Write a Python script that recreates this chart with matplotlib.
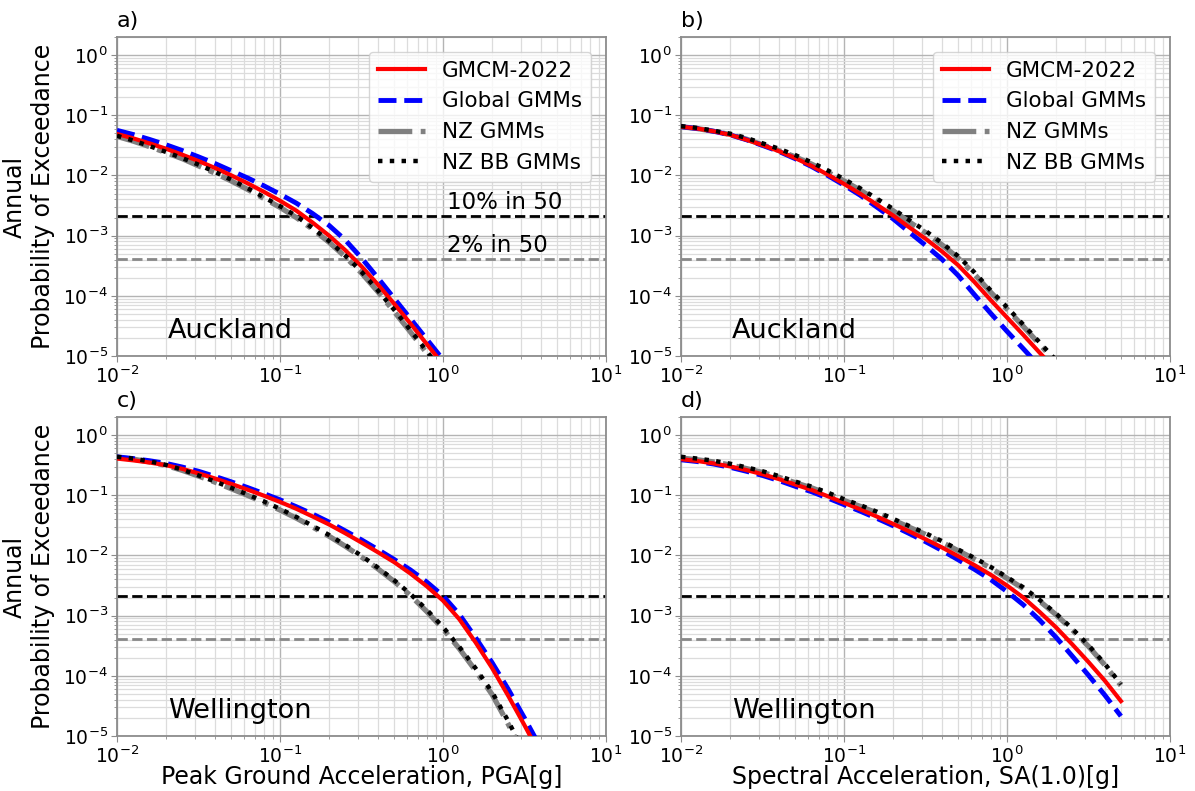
import numpy as np
import matplotlib
matplotlib.use("Agg")
import matplotlib.pyplot as plt

# ---------------- data (y stored as log10 of annual probability) ----
x_read = [0.01, 0.0126, 0.0158, 0.02, 0.0251, 0.0316, 0.0398, 0.0501, 0.0631, 0.0794,
          0.1, 0.126, 0.158, 0.2, 0.251, 0.316, 0.398, 0.501, 0.631, 0.794,
          1.0, 1.26, 1.58, 2.0, 2.51, 3.16, 3.98, 5.0]

# Panel a: PGA, Auckland (x_read[:22])
a_gmcm_log10 = [-1.31, -1.384, -1.466, -1.556, -1.654, -1.760, -1.874, -1.997, -2.129, -2.270,
                -2.420, -2.585, -2.78, -3.00, -3.24, -3.51, -3.81, -4.13, -4.46, -4.80, -5.14, -5.48]
a_global_log10 = [-1.25, -1.32, -1.40, -1.49, -1.585, -1.69, -1.80, -1.92, -2.04, -2.17,
                  -2.31, -2.46, -2.63, -2.83, -3.07, -3.37, -3.70, -4.04, -4.38, -4.72, -5.06, -5.40]
a_nz_log10 = [-1.35, -1.43, -1.52, -1.62, -1.72, -1.84, -1.96, -2.09, -2.23, -2.38,
              -2.53, -2.70, -2.89, -3.11, -3.35, -3.62, -3.93, -4.26, -4.60, -4.95, -5.30, -5.65]
a_nzbb_log10 = [-1.34, -1.42, -1.51, -1.61, -1.71, -1.82, -1.94, -2.07, -2.21, -2.36,
                -2.51, -2.675, -2.87, -3.09, -3.33, -3.60, -3.91, -4.23, -4.57, -4.92, -5.27, -5.62]

# Panel b: SA(1.0), Auckland (x_read[:25])
b_gmcm_log10 = [-1.19, -1.22, -1.265, -1.325, -1.405, -1.495, -1.595, -1.71, -1.84, -1.985,
                -2.14, -2.305, -2.48, -2.665, -2.86, -3.05, -3.26, -3.49, -3.77, -4.07,
                -4.36, -4.65, -4.94, -5.24, -5.54]
b_global_log10 = [-1.19, -1.22, -1.265, -1.325, -1.405, -1.50, -1.60, -1.72, -1.85, -2.00,
                  -2.16, -2.33, -2.52, -2.72, -2.94, -3.16, -3.39, -3.66, -3.98, -4.29,
                  -4.59, -4.88, -5.17, -5.46, -5.75]
b_nz_log10 = [-1.19, -1.22, -1.265, -1.32, -1.395, -1.49, -1.585, -1.69, -1.81, -1.945,
              -2.09, -2.245, -2.41, -2.585, -2.77, -2.95, -3.15, -3.37, -3.64, -3.94,
              -4.22, -4.51, -4.80, -5.10, -5.40]
b_nzbb_log10 = [-1.18, -1.21, -1.255, -1.305, -1.375, -1.465, -1.555, -1.66, -1.78, -1.915,
                -2.06, -2.215, -2.38, -2.555, -2.74, -2.92, -3.12, -3.34, -3.61, -3.91,
                -4.19, -4.48, -4.77, -5.07, -5.37]

# Panel c: PGA, Wellington (x_read[:27])
c_gmcm_log10 = [-0.39, -0.42, -0.455, -0.50, -0.56, -0.635, -0.72, -0.81, -0.905, -1.005,
                -1.11, -1.225, -1.35, -1.485, -1.63, -1.785, -1.945, -2.11, -2.30, -2.51,
                -2.75, -3.06, -3.44, -3.87, -4.33, -4.82, -5.33]
c_global_log10 = [-0.36, -0.39, -0.425, -0.47, -0.53, -0.60, -0.685, -0.775, -0.87, -0.97,
                  -1.075, -1.19, -1.31, -1.445, -1.59, -1.74, -1.90, -2.065, -2.24, -2.44,
                  -2.67, -2.98, -3.36, -3.78, -4.22, -4.70, -5.20]
c_nz_log10 = [-0.37, -0.40, -0.445, -0.505, -0.585, -0.68, -0.78, -0.89, -1.00, -1.12,
              -1.245, -1.38, -1.525, -1.68, -1.845, -2.025, -2.22, -2.43, -2.665, -2.93,
              -3.22, -3.55, -3.91, -4.31, -4.80, -5.33, -5.90]
c_nzbb_log10 = [-0.36, -0.39, -0.435, -0.495, -0.575, -0.67, -0.77, -0.875, -0.985, -1.10,
                -1.225, -1.36, -1.505, -1.66, -1.825, -2.005, -2.20, -2.41, -2.64, -2.90,
                -3.19, -3.52, -3.87, -4.27, -4.75, -5.28, -5.84]

# Panel d: SA(1.0), Wellington (x_read[:28])
d_gmcm_log10 = [-0.40, -0.43, -0.47, -0.52, -0.58, -0.65, -0.73, -0.82, -0.91, -1.015,
                -1.125, -1.235, -1.35, -1.475, -1.60, -1.73, -1.865, -2.01, -2.16, -2.32,
                -2.50, -2.70, -2.935, -3.195, -3.475, -3.77, -4.08, -4.42]
d_global_log10 = [-0.41, -0.44, -0.48, -0.535, -0.60, -0.67, -0.755, -0.85, -0.94, -1.045,
                  -1.155, -1.265, -1.38, -1.505, -1.635, -1.77, -1.915, -2.07, -2.23, -2.40,
                  -2.60, -2.82, -3.07, -3.36, -3.67, -3.99, -4.32, -4.67]
d_nz_log10 = [-0.38, -0.41, -0.445, -0.495, -0.555, -0.62, -0.70, -0.79, -0.875, -0.975,
              -1.085, -1.185, -1.29, -1.41, -1.53, -1.65, -1.78, -1.92, -2.06, -2.21,
              -2.38, -2.55, -2.755, -2.985, -3.235, -3.51, -3.82, -4.16]
d_nzbb_log10 = [-0.36, -0.39, -0.425, -0.475, -0.535, -0.60, -0.68, -0.77, -0.855, -0.955,
                -1.065, -1.165, -1.27, -1.39, -1.51, -1.63, -1.76, -1.90, -2.04, -2.19,
                -2.36, -2.53, -2.735, -2.965, -3.215, -3.49, -3.80, -4.14]

hazard_10in50 = 2.1e-3
hazard_2in50 = 4.04e-4

series_labels = ["GMCM-2022", "Global GMMs", "NZ GMMs", "NZ BB GMMs"]
panel_letters = ["a)", "b)", "c)", "d)"]
cities = ["Auckland", "Auckland", "Wellington", "Wellington"]
xlabels = ["Peak Ground Acceleration, PGA[g]", "Spectral Acceleration, SA(1.0)[g]"]
ylabel = "Annual\nProbability of Exceedance"

panels = [
    (a_gmcm_log10, a_global_log10, a_nz_log10, a_nzbb_log10),
    (b_gmcm_log10, b_global_log10, b_nz_log10, b_nzbb_log10),
    (c_gmcm_log10, c_global_log10, c_nz_log10, c_nzbb_log10),
    (d_gmcm_log10, d_global_log10, d_nz_log10, d_nzbb_log10),
]

# ---------------- figure ----------------
W, H = 1195, 791
fig = plt.figure(figsize=(W / 100, H / 100), dpi=100)

rects = [
    (117 / W, 1 - 356 / H, 489 / W, 319 / H),
    (681 / W, 1 - 356 / H, 489 / W, 319 / H),
    (117 / W, 1 - 736 / H, 489 / W, 319 / H),
    (681 / W, 1 - 736 / H, 489 / W, 319 / H),
]

spine_col = "#8c8c8c"

for i, (rect, data) in enumerate(zip(rects, panels)):
    ax = fig.add_axes(rect)
    red, blue, gray, dots = data
    n = len(red)
    x = np.array(x_read[:n])
    ax.plot(x, 10 ** np.array(red), color="red", lw=3.0, ls="-", label=series_labels[0], zorder=4)
    ax.plot(x, 10 ** np.array(blue), color="blue", lw=3.5, ls="--", label=series_labels[1], zorder=3)
    ax.plot(x, 10 ** np.array(gray), color="gray", lw=3.8, ls="-.", label=series_labels[2], zorder=2)
    ax.plot(x, 10 ** np.array(dots), color="black", lw=3.2, ls=":", label=series_labels[3], zorder=5)

    ax.axhline(hazard_10in50, color="black", ls="--", lw=2.0, zorder=1.5)
    ax.axhline(hazard_2in50, color="#888888", ls="--", lw=2.0, zorder=1.5)

    ax.set_xscale("log")
    ax.set_yscale("log")
    ax.set_xlim(1e-2, 1e1)
    ax.set_ylim(1e-5, 2.0)

    ax.grid(True, which="major", color="#b4b4b4", lw=1.0)
    ax.grid(True, which="minor", color="#dcdcdc", lw=0.9)
    ax.set_axisbelow(True)

    for sp in ax.spines.values():
        sp.set_color(spine_col)
        sp.set_linewidth(1.3)
    ax.tick_params(which="both", colors=spine_col, labelcolor="black", labelsize=13.5)
    ax.tick_params(which="major", length=4, pad=2.5)
    ax.tick_params(which="minor", length=2)

    ax.set_title(panel_letters[i], loc="left", fontsize=16, pad=7)
    ax.text(0.104, 0.056, cities[i], transform=ax.transAxes, fontsize=19.5,
            ha="left", va="baseline")

    if i in (0, 1):
        ax.legend(loc="upper right", fontsize=15.5, handlelength=2.2,
                  borderaxespad=0.7, labelspacing=0.5)
    if i == 0:
        ax.text(1.06, hazard_10in50 * 1.08, "10% in 50", fontsize=16.5, ha="left", va="bottom")
        ax.text(1.06, hazard_2in50 * 1.08, "2% in 50", fontsize=16.5, ha="left", va="bottom")
    if i in (0, 2):
        ax.set_ylabel(ylabel, fontsize=17, labelpad=6)
    if i in (2, 3):
        ax.set_xlabel(xlabels[i - 2], fontsize=17, labelpad=-1)

fig.savefig("out.png", dpi=100)
